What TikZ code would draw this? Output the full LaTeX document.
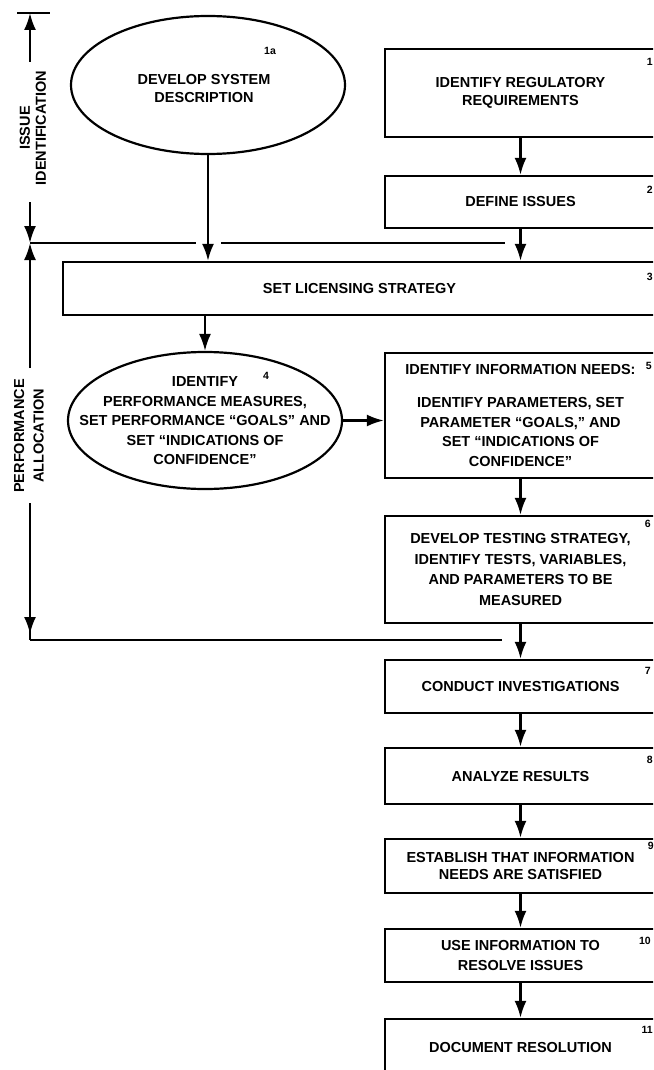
\documentclass[tikz,border=0pt]{standalone}
\usepackage{fontspec}
\setmainfont{Liberation Sans}
\usetikzlibrary{arrows.meta,shapes.geometric}
\begin{document}
\begin{tikzpicture}[x=1pt,y=-1pt,
  txt/.style={font=\bfseries\fontsize{14.5}{19.5}\selectfont, align=center, inner sep=0pt},
  box/.style={txt, draw, line width=2.4pt, rectangle},
  rbox/.style={box, minimum width=271},
  oval/.style={draw, line width=2.2pt, ellipse, inner sep=0pt, minimum width=274},
  num/.style={font=\bfseries\fontsize{10.5}{11}\selectfont, inner sep=0pt},
  numr/.style={num, anchor=north east},
  arr/.style={line width=2.2pt, -{Latex[length=17pt,width=12pt]}},
  ln/.style={line width=2.2pt},
  side/.style={font=\bfseries\fontsize{14.5}{16}\selectfont, align=center, inner sep=0pt, rotate=90},
]
\useasboundingbox (0,0) rectangle (653,1070);
\clip (0,0) rectangle (653,1070);

% ---- ovals
\node[oval, minimum height=138] (e1a) at (208,85) {};
\node[txt, font=\bfseries\fontsize{14.5}{18}\selectfont] (t1a) at (204,89) {DEVELOP SYSTEM\\DESCRIPTION};
\node[num] (n1a) at (270,51) {1a};

\node[oval, minimum height=137] (e4) at (205,420.5) {};
\node[txt] (t4) at (205,421) {IDENTIFY\\PERFORMANCE MEASURES,\\SET PERFORMANCE “GOALS” AND\\SET “INDICATIONS OF\\CONFIDENCE”};
\node[num] (n4) at (266,376) {4};

% ---- boxes
\node[rbox, minimum height=88, font=\bfseries\fontsize{14.5}{17.5}\selectfont] (b1) at (520.5,93) {IDENTIFY REGULATORY\\REQUIREMENTS};
\node[rbox, minimum height=52] (b2) at (520.5,202) {DEFINE ISSUES};
\node[box, minimum width=593, minimum height=53] (b3) at (359.5,288.5) {SET LICENSING STRATEGY};
\node[rbox, minimum height=125] (b5) at (520.5,415.5) {IDENTIFY INFORMATION NEEDS:\\[14pt]IDENTIFY PARAMETERS, SET\\PARAMETER “GOALS,” AND\\SET “INDICATIONS OF\\CONFIDENCE”};
\node[rbox, minimum height=107, font=\bfseries\fontsize{14.5}{20.5}\selectfont] (b6) at (520.5,569.5) {DEVELOP TESTING STRATEGY,\\IDENTIFY TESTS, VARIABLES,\\AND PARAMETERS TO BE\\MEASURED};
\node[rbox, minimum height=53] (b7) at (520.5,686.5) {CONDUCT INVESTIGATIONS};
\node[rbox, minimum height=56] (b8) at (520.5,776) {ANALYZE RESULTS};
\node[rbox, minimum height=54, font=\bfseries\fontsize{14.5}{17.5}\selectfont] (b9) at (520.5,866) {ESTABLISH THAT INFORMATION\\NEEDS ARE SATISFIED};
\node[rbox, minimum height=53] (b10) at (520.5,955.5) {USE INFORMATION TO\\RESOLVE ISSUES};
\node[rbox, minimum height=56] (b11) at (520.5,1047) {DOCUMENT RESOLUTION};

% ---- numbers
\node[numr] (n1) at (653,58) {1};
\node[numr] (n2) at (653,186) {2};
\node[numr] (n3) at (653,273) {3};
\node[numr] (n5) at (652,362) {5};
\node[numr] (n6) at (651,520) {6};
\node[numr] (n7) at (651,667) {7};
\node[numr] (n8) at (653,756) {8};
\node[numr] (n9) at (654,842) {9};
\node[numr] (n10) at (651,937) {10};
\node[numr] (n11) at (653,1026) {11};

% ---- main flow
\draw[arr] (e1a.south) -- (e1a.south |- b3.north);
\draw[arr] (b1.south) -- (b2.north);
\draw[arr] (b2.south) -- (b2.south |- b3.north);
\draw[arr] (e4.north |- b3.south) -- (e4.north);
\draw[arr] (e4.east) -- (e4.east -| b5.west);
\draw[arr] (b5.south) -- (b6.north);
\draw[arr] (b6.south) -- (b7.north);
\draw[arr] (b7.south) -- (b8.north);
\draw[arr] (b8.south) -- (b9.north);
\draw[arr] (b9.south) -- (b10.north);
\draw[arr] (b10.south) -- (b11.north);

% ---- feed lines
\coordinate (jt) at (30,243);
\coordinate (jtgap1) at (196,243);
\coordinate (jtgap2) at (221,243);
\coordinate (jtend) at (505,243);
\coordinate (jb) at (30,640);
\coordinate (jbend) at (502,640);
\draw[ln] (jt) -- (jtgap1);
\draw[ln] (jtgap2) -- (jtend);
\draw[ln] (jb) -- (jbend);

% ---- side dimension arrows
\coordinate (bar1) at (17,13);
\coordinate (bar2) at (50,13);
\coordinate (top) at (30,13);
\draw[line width=2.2pt] (bar1) -- (bar2);
\node[side] (issue) at (33,128) {ISSUE\\IDENTIFICATION};
\node[side, font=\bfseries\fontsize{14.5}{19.5}\selectfont] (perf) at (29,436) {PERFORMANCE\\ALLOCATION};
\coordinate (i1) at (30,62);
\coordinate (i2) at (30,202);
\coordinate (p1) at (30,368);
\coordinate (p2) at (30,503);
\coordinate (ptip) at (30,634);
\draw[arr] (i1) -- (top);
\draw[arr] (i2) -- (jt);
\draw[arr] (p1) -- (jt);
\draw[ln] (p2) -- (jb);
\draw[arr] (p2) -- (ptip);
\end{tikzpicture}
\end{document}
